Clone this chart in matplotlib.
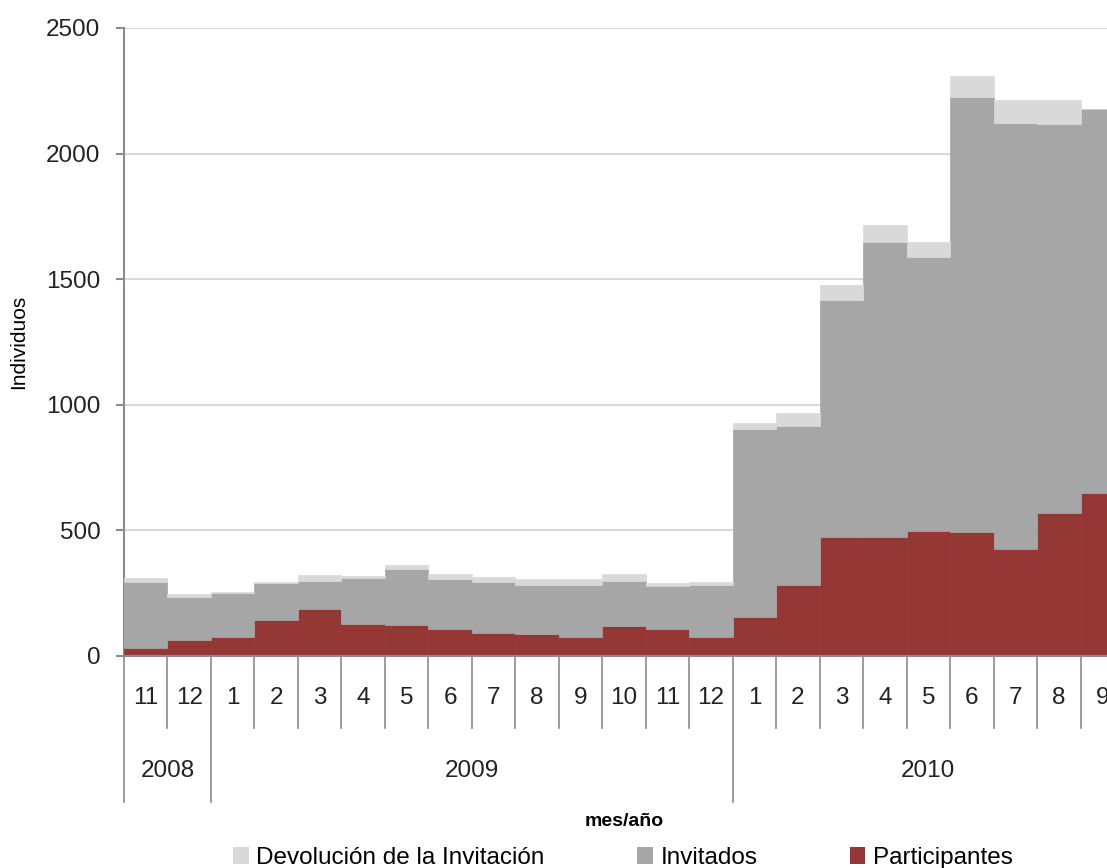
import matplotlib
matplotlib.use("Agg")
import matplotlib.pyplot as plt
import matplotlib.transforms as mtransforms
from matplotlib.patches import Patch
import numpy as np

plt.rcParams["font.family"] = ["Liberation Sans", "DejaVu Sans"]

# monthly counts, Nov 2008 - Sep 2010
months = ["11", "12", "1", "2", "3", "4", "5", "6", "7", "8", "9", "10", "11", "12",
          "1", "2", "3", "4", "5", "6", "7", "8", "9"]
years = ["2008", "2009", "2010"]
year_spans = [(0, 1), (2, 13), (14, 22)]

participantes = [33, 62, 74, 145, 186, 129, 123, 109, 93, 89, 74, 118, 109, 74,
                 154, 281, 474, 474, 497, 493, 425, 570, 647]
invitados = [261, 173, 177, 147, 114, 181, 222, 196, 203, 195, 210, 182, 169, 210,
             748, 636, 944, 1173, 1091, 1731, 1698, 1548, 1531]
devolucion = [16, 10, 2, 2, 21, 8, 16, 20, 20, 21, 21, 25, 11, 12,
              25, 51, 59, 68, 59, 86, 90, 95, 0]

RED = "#953735"
GRAY = "#A6A6A6"
LIGHT = "#D9D9D9"
AXIS = "#8C8C8C"

W, H = 1107, 868
fig = plt.figure(figsize=(W / 100, H / 100), dpi=100)
# plot area runs past the right edge of the canvas
ax = fig.add_axes([124 / W, 1 - 656 / H, 1000 / W, 628 / H])

x = np.arange(len(months))
p = np.array(participantes)
inv = np.array(invitados)
dev = np.array(devolucion)

ax.bar(x, p, width=1.0, color=RED, edgecolor=RED, linewidth=0.5, zorder=3)
ax.bar(x, inv, bottom=p, width=1.0, color=GRAY, edgecolor=GRAY, linewidth=0.5, zorder=3)
ax.bar(x, dev, bottom=p + inv, width=1.0, color=LIGHT, edgecolor=LIGHT, linewidth=0.5, zorder=3)

ax.set_xlim(-0.5, len(months) - 0.5)
ax.set_ylim(0, 2500)
ax.set_yticks(np.arange(0, 2501, 500))
ax.yaxis.grid(True, color=LIGHT, linewidth=1.5, zorder=0)
ax.set_axisbelow(True)

for side in ["top", "right"]:
    ax.spines[side].set_visible(False)
ax.spines["left"].set_color(AXIS)
ax.spines["left"].set_linewidth(1.5)
ax.spines["bottom"].set_color(AXIS)
ax.spines["bottom"].set_linewidth(1.5)
ax.spines["bottom"].set_zorder(4)
ax.tick_params(axis="y", length=6, width=1.5, color=AXIS, labelsize=17.5, pad=11,
               labelcolor="#222222")
ax.tick_params(axis="x", bottom=False, labelbottom=False)

# two-level category axis drawn by hand
trans = mtransforms.blended_transform_factory(ax.transData, ax.transAxes)
month_y = (656 - 698) / 628
month_sep = (656 - 728) / 628
year_y = (656 - 771) / 628
year_sep = (656 - 802) / 628
year_edges = [s[0] - 0.5 for s in year_spans]

for i, m in enumerate(months):
    ax.text(i, month_y, m, transform=trans, ha="center", va="center",
            fontsize=17.5, color="#222222")
for b in np.arange(len(months)) - 0.5:
    bottom = year_sep if b in year_edges else month_sep
    ax.plot([b, b], [0, bottom], transform=trans, color=AXIS, linewidth=1.2,
            clip_on=False, zorder=5)
for label, (a, b) in zip(years, year_spans):
    ax.text((a + b) / 2, year_y, label, transform=trans, ha="center", va="center",
            fontsize=17.5, color="#222222")

ax.text(0.5, (656 - 821) / 628, "mes/año", transform=ax.transAxes, ha="center",
        va="center", fontsize=14, fontweight="bold")
ax.set_ylabel("Individuos", fontsize=15)
ax.yaxis.set_label_coords(-96 / 1000, 0.5)

handles = [Patch(facecolor=LIGHT, label="Devolución de la Invitación"),
           Patch(facecolor=GRAY, label="Invitados"),
           Patch(facecolor=RED, label="Participantes")]
fig.legend(handles=handles, loc="center", bbox_to_anchor=(623 / W, 1 - 858 / H),
           ncol=3, frameon=False, fontsize=17.5, handlelength=0.65, handleheight=0.65,
           handletextpad=0.3, columnspacing=3.8, borderaxespad=0)

fig.savefig("out.png", dpi=100)
